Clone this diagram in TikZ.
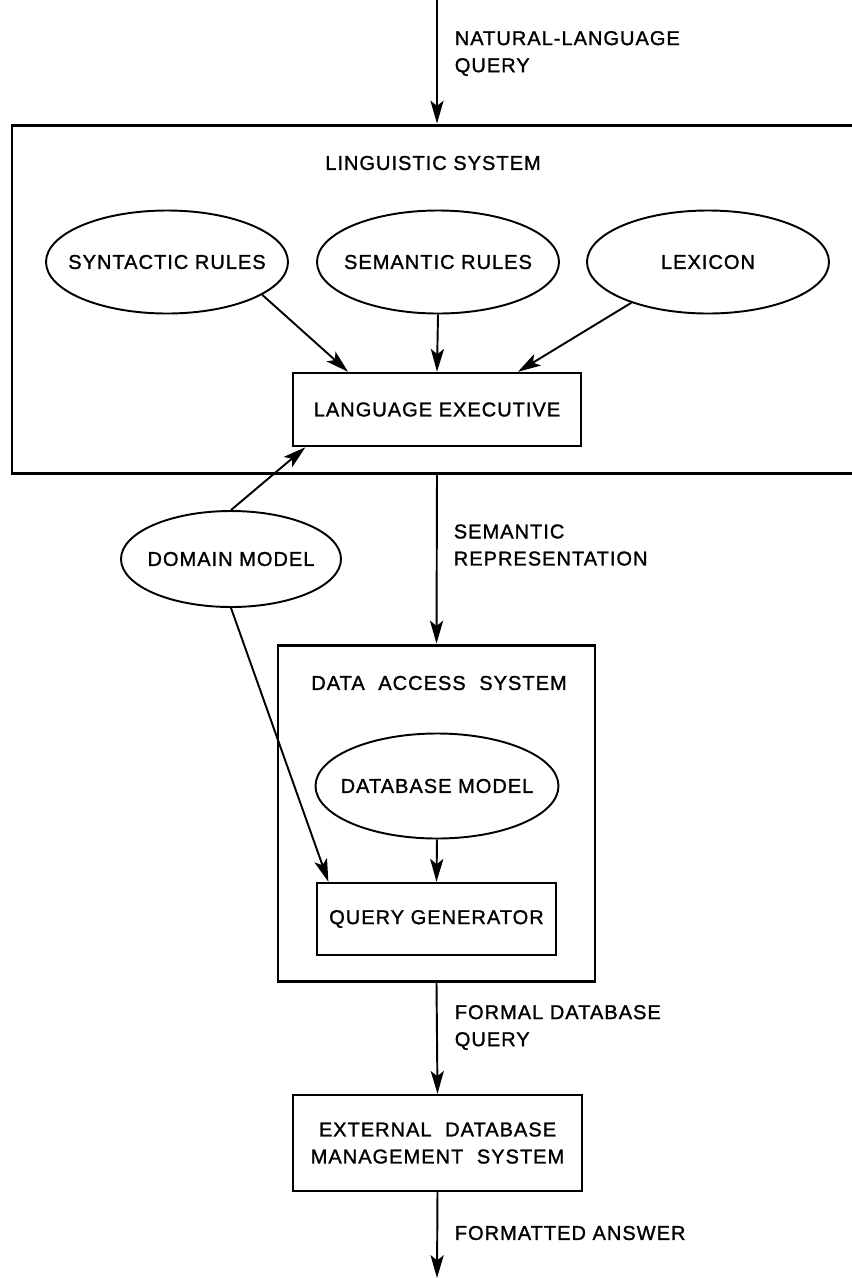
\documentclass[tikz,border=0pt]{standalone}
\usepackage{fontspec}
\setmainfont{Liberation Sans}[LetterSpace=5,FakeBold=1.3]
\usepackage{tikz}
\usetikzlibrary{arrows.meta,shapes.geometric,positioning}

\begin{document}
\begin{tikzpicture}[->,>={Stealth[length=13pt,width=7.5pt,inset=3pt]},line width=1.1pt,
                    font=\fontsize{11.4}{15.4}\selectfont,
                    oval/.style={draw,ellipse,inner xsep=-0.5cm,inner ysep=0pt,
                                 minimum width=4.84cm,minimum height=2.06cm},
                    unit/.style={draw,rectangle,line width=1.4pt,align=center},
                    system/.style={draw,rectangle,line width=1.7pt},
                    note/.style={anchor=west,align=left}]
  \useasboundingbox (0,0) rectangle (17.04,-25.56);

  \coordinate (in) at (8.74,0);
  \node[system,minimum width=17cm,minimum height=6.96cm] (ling) at (8.74,-5.98) {};
  \node (lingtitle) at (8.66,-3.26) {LINGUISTIC SYSTEM};
  \node[oval]          (syn) at (3.34,-5.24)  {SYNTACTIC RULES};
  \node[oval]          (sem) at (8.76,-5.24)  {SEMANTIC RULES};
  \node[oval]          (lex) at (14.16,-5.24) {LEXICON};
  \node[unit,minimum width=5.76cm,minimum height=1.46cm] (exec) at (8.74,-8.19) {LANGUAGE EXECUTIVE};

  \node[oval,minimum width=4.4cm,minimum height=1.92cm] (dom) at (4.62,-11.18) {DOMAIN MODEL};

  \node[system,minimum width=6.34cm,minimum height=6.72cm] (das) at (8.73,-16.26) {};
  \node (dastitle) at (8.78,-13.66) {DATA\hspace{0.35em} ACCESS\hspace{0.35em} SYSTEM};
  \node[oval,minimum width=4.86cm,minimum height=2.1cm] (dbm) at (8.74,-15.72) {DATABASE MODEL};
  \node[unit,minimum width=4.78cm,minimum height=1.44cm] (qgen) at (8.73,-18.38) {QUERY GENERATOR};

  \node[unit,minimum width=5.78cm,minimum height=1.92cm] (dbms) at (8.75,-22.86)
       {EXTERNAL\hspace{0.35em} DATABASE\\MANAGEMENT\hspace{0.35em} SYSTEM};
  \coordinate (out) at (8.74,-25.56);

  \node[note] (nlq)  at (8.96,-1.07)  {NATURAL-LANGUAGE\\QUERY};
  \node[note] (srep) at (8.94,-10.9)  {SEMANTIC\\REPRESENTATION};
  \node[note] (fdq)  at (8.96,-20.55) {FORMAL DATABASE\\QUERY};
  \node[note] (fans) at (8.96,-24.66) {FORMATTED ANSWER};

  \draw (in) -- (ling.north);
  \draw (syn.-19) -- (exec.157);
  \draw (sem.south) -- (exec.north);
  \draw (lex.-152) -- (exec.25);
  \draw (dom.north) -- (exec.196);
  \draw (ling.south) -- (das.north);
  \draw (dom.south) -- (qgen.161);
  \draw (dbm.south) -- (qgen.north);
  \draw (das.south) -- (dbms.north);
  \draw (dbms.south) -- (out);
\end{tikzpicture}
\end{document}
